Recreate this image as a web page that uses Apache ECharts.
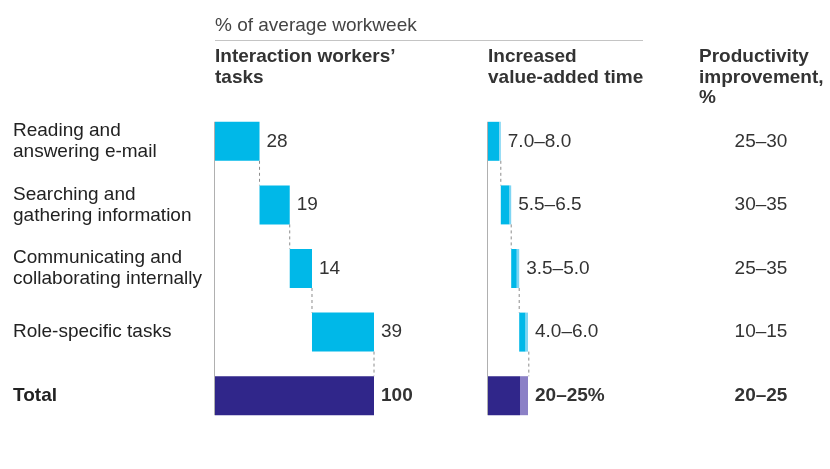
<!DOCTYPE html>
<html><head><meta charset="utf-8">
<script src="https://cdn.jsdelivr.net/npm/echarts@6/dist/echarts.min.js"></script>
<style>html,body{margin:0;padding:0;background:#fff}#c{width:830px;height:469px}</style>
</head><body><div id="c"></div>
<script>
const categories = ['Reading and\nanswering e-mail', 'Searching and\ngathering information', 'Communicating and\ncollaborating internally', 'Role-specific tasks', 'Total'];
const taskShare = [28, 19, 14, 39];
const taskTotal = 100;
const timeLow = [7.0, 5.5, 3.5, 4.0];
const timeHigh = [8.0, 6.5, 5.0, 6.0];
const timeTotalLow = 20, timeTotalHigh = 25;
const timeLabels = ['7.0–8.0', '5.5–6.5', '3.5–5.0', '4.0–6.0', '20–25%'];
const prodRange = ['25–30', '30–35', '25–35', '10–15', '20–25'];

const FONT = '"Liberation Sans", Arial, Helvetica, sans-serif';
const FS = 19;
const CYAN = '#00b8e8', CYAN_L = '#7ed5f3', PURPLE = '#30268a', PURPLE_L = '#8b80c6';
const BARW = 39;

// panel 1 waterfall
const base1 = [], cum1 = [];
let acc = 0;
taskShare.forEach(v => { base1.push(acc); acc += v; cum1.push(acc); });
base1.push(0);
const vals1 = taskShare.map(v => ({value: v, itemStyle: {color: CYAN}}))
  .concat([{value: taskTotal, itemStyle: {color: PURPLE}, label: {fontWeight: 'bold'}}]);

// panel 2 waterfall
const base2 = [], cum2 = [];
acc = 0;
timeHigh.forEach(v => { base2.push(acc); acc += v; cum2.push(acc); });
base2.push(0);
const low2 = timeLow.map(v => ({value: v, itemStyle: {color: CYAN}}))
  .concat([{value: timeTotalLow, itemStyle: {color: PURPLE}}]);
const ext2 = timeLow.map((v, i) => ({value: timeHigh[i] - v, itemStyle: {color: CYAN_L}}))
  .concat([{value: timeTotalHigh - timeTotalLow, itemStyle: {color: PURPLE_L}, label: {fontWeight: 'bold'}}]);

const connData1 = cum1.map((v, i) => [v, i]);
const connData2 = cum2.map((v, i) => [v, i]);

function connRender(params, api) {
  const x = api.value(0), r = api.value(1);
  const p1 = api.coord([x, r]), p2 = api.coord([x, r + 1]);
  return {type: 'line', shape: {x1: p1[0], y1: p1[1] + BARW / 2, x2: p2[0], y2: p2[1] - BARW / 2},
    style: {stroke: '#8c8c8c', lineDash: [3, 3], lineWidth: 1}};
}
function axisRender(params, api) {
  const p1 = api.coord([0, 0]), p2 = api.coord([0, categories.length - 1]);
  return {type: 'line', shape: {x1: p1[0] - 0.5, y1: p1[1] - BARW / 2, x2: p2[0] - 0.5, y2: p2[1] + BARW / 2},
    style: {stroke: '#b0b0b0', lineWidth: 1}};
}

const labelStyle = {show: true, position: 'right', distance: 7, fontSize: FS, color: '#333', fontFamily: FONT};

const chart = echarts.init(document.getElementById('c'));
const gridCommon = {top: 109.5, height: 318, outerBoundsMode: 'none'};
chart.setOption({
  animation: false,
  textStyle: {fontFamily: FONT},
  grid: [
    Object.assign({left: 215, width: 159}, gridCommon),
    Object.assign({left: 488, width: 40}, gridCommon),
    Object.assign({left: 741, width: 40}, gridCommon)
  ],
  xAxis: [
    {gridIndex: 0, type: 'value', min: 0, max: 100, show: false},
    {gridIndex: 1, type: 'value', min: 0, max: 25, show: false},
    {gridIndex: 2, type: 'value', min: 0, max: 1, show: false}
  ],
  yAxis: [
    {gridIndex: 0, type: 'category', data: categories, inverse: true,
      axisLine: {show: false}, axisTick: {show: false}, splitLine: {show: false},
      axisLabel: {align: 'left', margin: 202, fontSize: FS, lineHeight: 21, color: '#222', fontFamily: FONT,
        formatter: v => v === 'Total' ? '{b|Total}' : v,
        rich: {b: {fontWeight: 'bold', fontSize: FS, color: '#222', fontFamily: FONT}}}},
    {gridIndex: 1, type: 'category', data: categories, inverse: true, show: false},
    {gridIndex: 2, type: 'category', data: categories, inverse: true, show: false}
  ],
  series: [
    {type: 'bar', xAxisIndex: 0, yAxisIndex: 0, stack: 'p1', data: base1, barWidth: BARW,
      itemStyle: {color: 'rgba(0,0,0,0)'}, silent: true},
    {type: 'bar', xAxisIndex: 0, yAxisIndex: 0, stack: 'p1', data: vals1, barWidth: BARW,
      label: labelStyle},
    {type: 'custom', xAxisIndex: 0, yAxisIndex: 0, data: connData1, renderItem: connRender, silent: true, z: 3},
    {type: 'custom', xAxisIndex: 0, yAxisIndex: 0, data: [[0, 0]], renderItem: axisRender, silent: true, z: 1},

    {type: 'bar', xAxisIndex: 1, yAxisIndex: 1, stack: 'p2', data: base2, barWidth: BARW,
      itemStyle: {color: 'rgba(0,0,0,0)'}, silent: true},
    {type: 'bar', xAxisIndex: 1, yAxisIndex: 1, stack: 'p2', data: low2, barWidth: BARW},
    {type: 'bar', xAxisIndex: 1, yAxisIndex: 1, stack: 'p2', data: ext2, barWidth: BARW,
      label: Object.assign({}, labelStyle, {formatter: p => timeLabels[p.dataIndex]})},
    {type: 'custom', xAxisIndex: 1, yAxisIndex: 1, data: connData2, renderItem: connRender, silent: true, z: 3},
    {type: 'custom', xAxisIndex: 1, yAxisIndex: 1, data: [[0, 0]], renderItem: axisRender, silent: true, z: 1},

    {type: 'scatter', xAxisIndex: 2, yAxisIndex: 2, symbolSize: 0, itemStyle: {opacity: 1},
      data: prodRange.map((t, i) => ({value: [0.5, i], label: i === prodRange.length - 1 ? {fontWeight: 'bold'} : {}})),
      label: {show: true, position: 'inside', fontSize: FS, color: '#333', fontFamily: FONT,
        formatter: p => prodRange[p.dataIndex]}}
  ],
  graphic: [
    {type: 'text', left: 215, top: 16, style: {text: '% of average workweek', font: FS + 'px ' + FONT, fill: '#444'}},
    {type: 'line', shape: {x1: 215, y1: 40.5, x2: 643, y2: 40.5}, style: {stroke: '#c4c4c4', lineWidth: 1}},
    {type: 'text', left: 215, top: 47, style: {text: 'Interaction workers’\ntasks', font: 'bold ' + FS + 'px ' + FONT, fill: '#333', lineHeight: 20.5}},
    {type: 'text', left: 488, top: 47, style: {text: 'Increased\nvalue-added time', font: 'bold ' + FS + 'px ' + FONT, fill: '#333', lineHeight: 20.5}},
    {type: 'text', left: 699, top: 47, style: {text: 'Productivity\nimprovement,\n%', font: 'bold ' + FS + 'px ' + FONT, fill: '#333', lineHeight: 20.5}}
  ]
});
</script></body></html>
